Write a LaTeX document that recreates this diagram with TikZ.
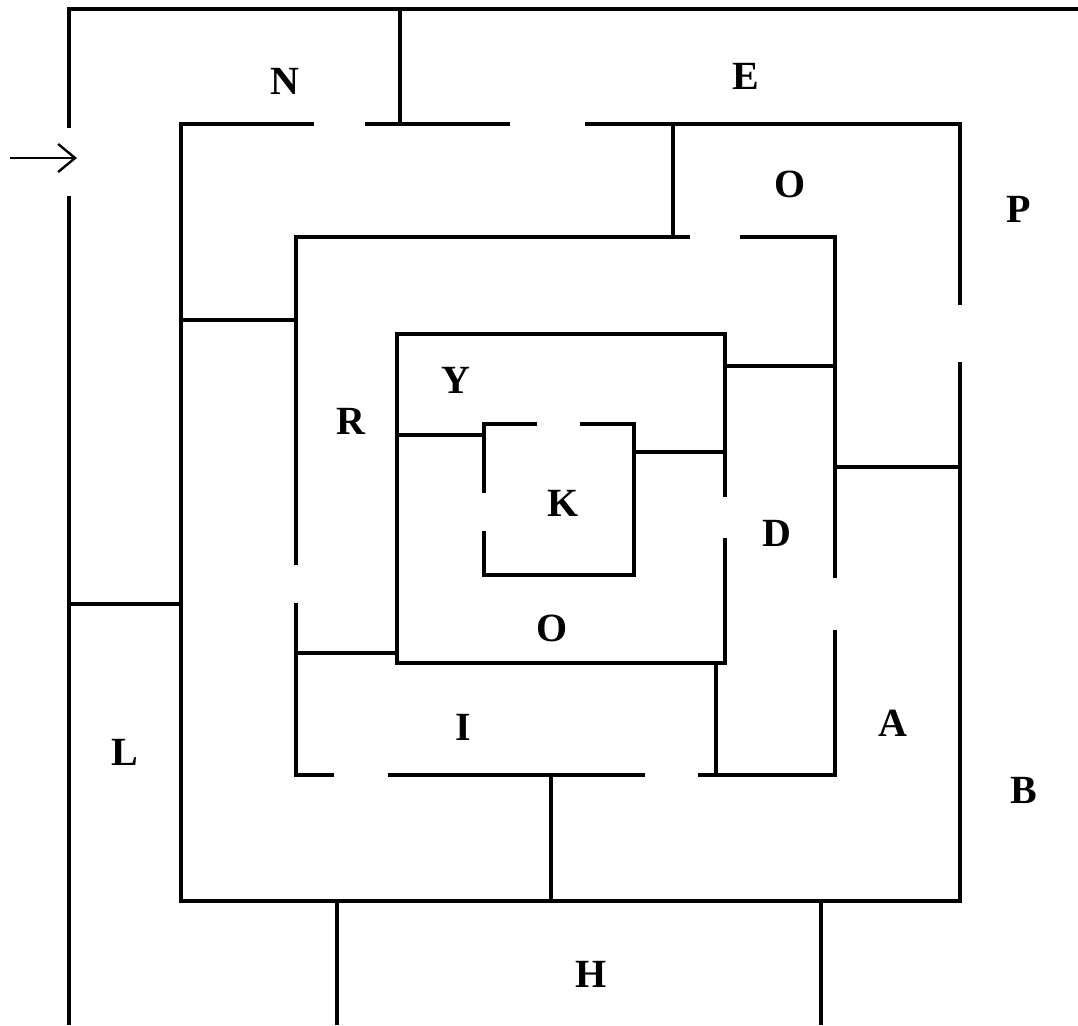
\documentclass[tikz,border=0pt]{standalone}
\usepackage{fontspec}
\setmainfont{Liberation Serif}
\usetikzlibrary{arrows.meta}
\begin{document}
\begin{tikzpicture}[x=1pt,y=-1pt,
  wall/.style={line width=3.4pt,line cap=butt,line join=miter},
  lbl/.style={font=\fontsize{40}{40}\selectfont\bfseries,inner sep=0pt}]
\useasboundingbox (0,0) rectangle (1078,1025);
% outer
\draw[wall] (69,128) -- (69,9) -- (1078,9);
\draw[wall] (69,196) -- (69,1025);
\draw[line width=2.4pt,-{Straight Barb[length=17pt,width=28pt,line width=2.4pt]}] (10,158) -- (77,158);
\draw[wall] (400,9) -- (400,124);
% ring 2
\draw[wall] (314,124) -- (181,124) -- (181,901) -- (960,901) -- (960,362);
\draw[wall] (365,124) -- (510,124);
\draw[wall] (585,124) -- (960,124) -- (960,305);
\draw[wall] (69,604) -- (181,604);
\draw[wall] (673,124) -- (673,237);
\draw[wall] (181,320) -- (296,320);
\draw[wall] (835,467) -- (960,467);
\draw[wall] (551,775) -- (551,901);
\draw[wall] (337,901) -- (337,1025);
\draw[wall] (821,901) -- (821,1025);
% ring 3
\draw[wall] (296,565) -- (296,237) -- (690,237);
\draw[wall] (740,237) -- (835,237) -- (835,578);
\draw[wall] (835,630) -- (835,775) -- (698,775);
\draw[wall] (645,775) -- (388,775);
\draw[wall] (334,775) -- (296,775) -- (296,603);
\draw[wall] (725,366) -- (835,366);
\draw[wall] (296,653) -- (397,653);
\draw[wall] (716,663) -- (716,775);
% ring 4
\draw[wall] (725,497) -- (725,334) -- (397,334) -- (397,663) -- (725,663) -- (725,538);
\draw[wall] (397,435) -- (484,435);
\draw[wall] (634,452) -- (725,452);
% ring 5
\draw[wall] (484,493) -- (484,424) -- (537,424);
\draw[wall] (580,424) -- (634,424) -- (634,575) -- (484,575) -- (484,531);
% labels
\node[lbl] (n) at (285,81) {N};
\node[lbl] (e) at (746,76) {E};
\node[lbl] (o1) at (790,184) {O};
\node[lbl] (p) at (1019,209) {P};
\node[lbl] (y) at (456,380) {Y};
\node[lbl] (r) at (351,421) {R};
\node[lbl] (k) at (563,503) {K};
\node[lbl] (d) at (777,533) {D};
\node[lbl] (o2) at (552,628) {O};
\node[lbl] (i) at (463,727) {I};
\node[lbl] (a) at (893,723) {A};
\node[lbl] (l) at (125,752) {L};
\node[lbl] (b) at (1024,790) {B};
\node[lbl] (h) at (591,974) {H};
\end{tikzpicture}
\end{document}
